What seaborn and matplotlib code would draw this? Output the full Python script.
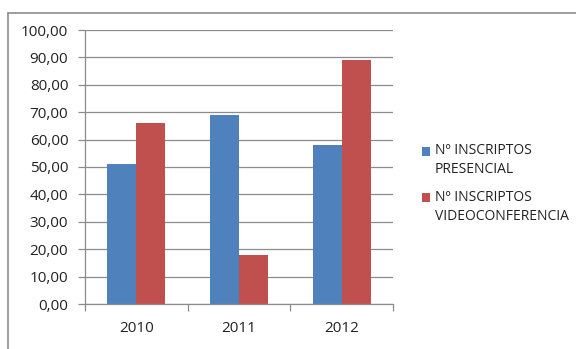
import matplotlib
matplotlib.use("Agg")
import matplotlib.pyplot as plt
import matplotlib.lines as mlines
from matplotlib.ticker import FuncFormatter, FixedLocator
import seaborn as sns
import pandas as pd

years = ["2010", "2011", "2012"]
presencial = [51, 69, 58]
videoconf = [66, 18, 89]
series_names = ["Nº INSCRIPTOS\nPRESENCIAL", "Nº INSCRIPTOS\nVIDEOCONFERENCIA"]
colors = ["#4F81BD", "#C0504D"]
y_ticks = [0, 10, 20, 30, 40, 50, 60, 70, 80, 90, 100]

df = pd.DataFrame({
    "year": years * 2,
    "value": presencial + videoconf,
    "serie": [series_names[0]] * 3 + [series_names[1]] * 3,
})

sns.set_style("white")
plt.rcParams["font.family"] = ["Open Sans", "DejaVu Sans"]

fig = plt.figure(figsize=(5.76, 3.49), dpi=100)
ax = fig.add_axes([85/576, 45/349, (393-85)/576, (304-30)/349])

sns.barplot(data=df, x="year", y="value", hue="serie", palette=colors,
            width=0.565, saturation=1, ax=ax, legend=True, linewidth=0)

ax.set_ylim(0, 100)
ax.set_xlim(-0.5, 2.5)
ax.set_yticks(y_ticks)
ax.yaxis.set_major_formatter(FuncFormatter(lambda v, p: f"{v:.2f}".replace(".", ",")))
ax.grid(axis="y", color="#8c8c8c", linewidth=0.9)
ax.set_axisbelow(True)
ax.set_xlabel("")
ax.set_ylabel("")
for s in ["top", "right"]:
    ax.spines[s].set_visible(False)
for s in ["left", "bottom"]:
    ax.spines[s].set_color("#8c8c8c")
    ax.spines[s].set_linewidth(0.9)
ax.tick_params(axis="y", which="major", left=True, length=5, width=0.9, color="#8c8c8c",
               labelsize=11, labelcolor="#222222", pad=7)
ax.tick_params(axis="x", which="major", length=0, labelsize=11, labelcolor="#222222", pad=12)
ax.xaxis.set_minor_locator(FixedLocator([-0.5, 0.5, 1.5, 2.5]))
ax.tick_params(axis="x", which="minor", bottom=True, length=5, width=0.9, color="#8c8c8c")

leg = ax.legend(loc="center left", bbox_to_anchor=(1.075, 0.44), frameon=False,
                fontsize=10, handlelength=0.6, handleheight=0.6, handletextpad=0.35,
                labelspacing=0.9, borderaxespad=0)
for t in leg.get_texts():
    t.set_color("#222222")
    t.set_linespacing(1.35)
for h in leg.legend_handles:
    h.set_y(h.get_y() + 7)

# outer frame
fig.add_artist(mlines.Line2D([8/576, 8/576], [0, 1 - 12.5/349], color="#8c8c8c", linewidth=1.2))
fig.add_artist(mlines.Line2D([8/576, 1], [1 - 12.5/349, 1 - 12.5/349], color="#8c8c8c", linewidth=1.2))

fig.savefig("out.png", dpi=100)
